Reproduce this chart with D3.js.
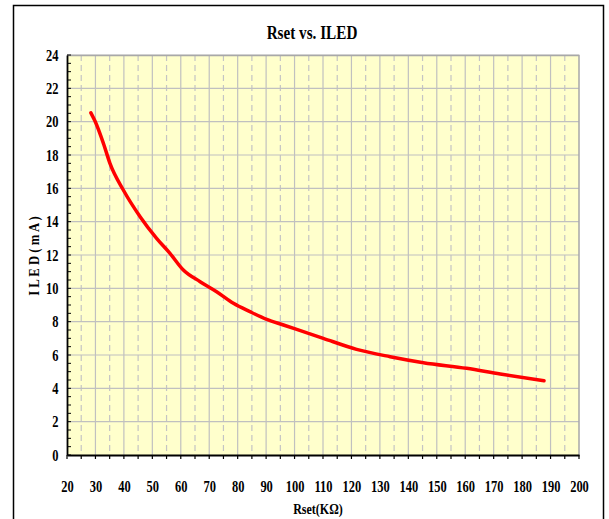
<!DOCTYPE html>
<html>
<head>
<meta charset="utf-8">
<script src="https://cdn.jsdelivr.net/npm/d3@7"></script>
<style>
  body { margin: 0; background: #fff; }
  text { font-family: "Liberation Serif", "Times New Roman", serif; font-weight: bold; }
</style>
</head>
<body>
<div id="chart"></div>
<script>
// Rset (kOhm) vs ILED (mA)
const rset = [28.4, 29.8, 32.8, 35.1, 39.8, 45.7, 51.5, 56.2, 60.9, 66.8, 72.6, 78.5,
  84.3, 90.2, 96.1, 104.9, 110.1, 121.8, 133.6, 145.3, 160.5, 172.3, 187.7];
const iled = [20.53, 20.05, 18.7, 17.5, 15.9, 14.3, 13.0, 12.1, 11.1, 10.4, 9.8, 9.1,
  8.6, 8.14, 7.8, 7.3, 7.0, 6.34, 5.9, 5.54, 5.2, 4.86, 4.46];
const xTicks = d3.range(20, 201, 10);
const yTicks = d3.range(0, 25, 2);

const W = 609, H = 519;
const margin = { top: 55, right: 30, bottom: 64, left: 67 };
const width = W - margin.left - margin.right;
const height = H - margin.top - margin.bottom;

const svg = d3.select('#chart').append('svg')
  .attr('width', W).attr('height', H);

// outer frame
svg.append('rect')
  .attr('x', 13.5).attr('y', 5.5)
  .attr('width', 590).attr('height', 520)
  .attr('fill', 'none').attr('stroke', '#000').attr('stroke-width', 1.5);

const g = svg.append('g').attr('transform', `translate(${margin.left},${margin.top})`);

const x = d3.scaleLinear().domain([20, 200]).range([0, width]);
const y = d3.scaleLinear().domain([0, 24]).range([height, 0]);

g.append('rect')
  .attr('width', width).attr('height', height)
  .attr('fill', '#ffffcc');

// dashed half-step verticals
g.selectAll('.vminor')
  .data(d3.range(25, 200, 10))
  .enter().append('line')
  .attr('x1', d => x(d)).attr('x2', d => x(d))
  .attr('y1', 0).attr('y2', height)
  .attr('stroke', '#c4c4c4').attr('stroke-width', 1.2)
  .attr('stroke-dasharray', '6,4');

g.selectAll('.vmajor')
  .data(xTicks.slice(1, -1))
  .enter().append('line')
  .attr('x1', d => x(d)).attr('x2', d => x(d))
  .attr('y1', 0).attr('y2', height)
  .attr('stroke', '#c0c0c0').attr('stroke-width', 1.2);

g.selectAll('.hmajor')
  .data(yTicks.slice(1))
  .enter().append('line')
  .attr('x1', 0).attr('x2', width)
  .attr('y1', d => y(d)).attr('y2', d => y(d))
  .attr('stroke', '#c0c0c0').attr('stroke-width', 1.2);

// plot border top/right
g.append('path')
  .attr('d', `M0,0.5H${width}V${height}`)
  .attr('fill', 'none').attr('stroke', '#a8a8a8').attr('stroke-width', 1.5);

// y axis minor ticks (inward)
g.selectAll('.yminor')
  .data(d3.range(0, 24.01, 0.5))
  .enter().append('line')
  .attr('x1', 0).attr('x2', 4)
  .attr('y1', d => y(d)).attr('y2', d => y(d))
  .attr('stroke', '#000').attr('stroke-width', 1);

// x axis ticks every 5
g.selectAll('.xminor')
  .data(d3.range(20, 200.01, 5))
  .enter().append('line')
  .attr('x1', d => x(d)).attr('x2', d => x(d))
  .attr('y1', height).attr('y2', height + 4)
  .attr('stroke', '#000').attr('stroke-width', 1.2);

const yAxis = g.append('g')
  .call(d3.axisLeft(y).tickValues(yTicks).tickSize(0).tickPadding(9));
yAxis.select('.domain').attr('stroke', '#000').attr('stroke-width', 1.8);
yAxis.selectAll('text')
  .attr('font-size', 16).attr('fill', '#000')
  .attr('transform', 'scale(0.78,1)')
  .attr('x', -11);

const xAxis = g.append('g').attr('transform', `translate(0,${height})`)
  .call(d3.axisBottom(x).tickValues(xTicks).tickSize(0).tickPadding(26));
xAxis.select('.domain').attr('stroke', '#000').attr('stroke-width', 1.8);
xAxis.selectAll('text')
  .attr('font-size', 16).attr('fill', '#000')
  .attr('transform', 'scale(0.78,1)');

const line = d3.line()
  .x((d, i) => x(rset[i]))
  .y(d => y(d))
  .curve(d3.curveMonotoneX);

g.append('path')
  .datum(iled)
  .attr('d', line)
  .attr('fill', 'none')
  .attr('stroke', '#ff0000')
  .attr('stroke-width', 3.5)
  .attr('stroke-linecap', 'round');

// title and axis labels
svg.append('text')
  .attr('transform', 'translate(312,39) scale(0.8,1)')
  .attr('text-anchor', 'middle')
  .attr('font-size', 19)
  .text('Rset vs. ILED');

svg.append('text')
  .attr('transform', 'translate(318,514) scale(0.8,1)')
  .attr('text-anchor', 'middle')
  .attr('font-size', 15)
  .text('Rset(KΩ)');

svg.append('text')
  .attr('transform', 'translate(39,256) rotate(-90) scale(0.85,1)')
  .attr('text-anchor', 'middle')
  .attr('font-size', 15)
  .text('I L E D ( m A )');
</script>
</body>
</html>
